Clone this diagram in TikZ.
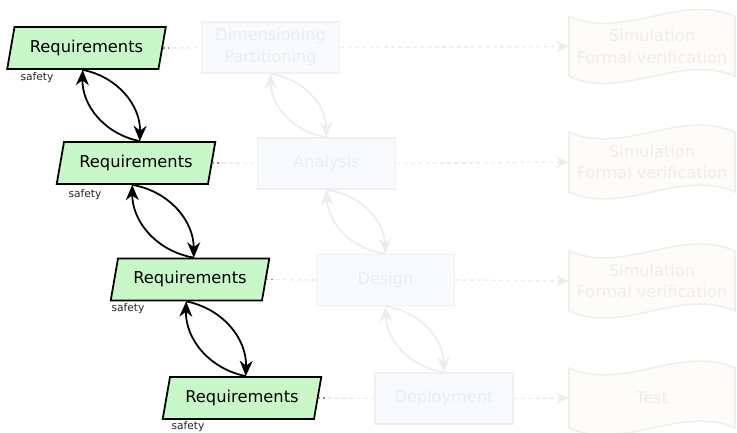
\documentclass[tikz,border=0pt]{standalone}
\usepackage{fontspec}
\setmainfont{DejaVu Sans}
\usetikzlibrary{shapes.geometric,arrows.meta,calc}
\definecolor{reqfill}{HTML}{C8F7C8}
\definecolor{boxfill}{HTML}{F9FAFD}
\definecolor{boxdraw}{HTML}{EEF0F2}
\definecolor{boxtext}{HTML}{EBEDF0}
\definecolor{docfill}{HTML}{FDFCF8}
\definecolor{docdraw}{HTML}{F1EFEA}
\definecolor{doctext}{HTML}{EFEDE8}
\definecolor{faint}{HTML}{EDEDED}
\definecolor{linkred}{HTML}{B07888}
\begin{document}
\begin{tikzpicture}[x=0.62pt,y=-0.62pt,
  req/.style={shape=trapezium, trapezium left angle=70, trapezium right angle=110,
    trapezium stretches=true, draw=black, line width=1.1pt, fill=reqfill,
    minimum width=98.6pt, minimum height=26pt, inner sep=0pt,
    font=\fontsize{10.1}{12}\selectfont},
  tag/.style={inner sep=0pt, font=\fontsize{6.6}{8}\selectfont, text=black!85},
  stage/.style={draw=boxdraw, line width=1.1pt, fill=boxfill, text=boxtext,
    minimum width=85.6pt, minimum height=31.6pt, align=center, inner sep=0pt,
    font=\fontsize{10}{13.6}\selectfont},
  docnode/.style={draw=none, text=doctext, minimum width=103pt, minimum height=37.2pt,
    align=center, inner sep=0pt, font=\fontsize{10}{13.2}\selectfont},
  docwave/.pic={
    \path[fill=docfill, draw=docdraw, line width=1pt]
      (-83,-30) .. controls (-28,-6) and (28,-54) .. (83,-30) -- (83,30)
      .. controls (28,6) and (-28,54) .. (-83,30) -- cycle;},
  blk/.style={draw=black, line width=1.1pt, -{Stealth[length=9.5pt,width=8pt,inset=3pt]}},
  faintarc/.style={draw=faint, line width=1.1pt, -{Stealth[length=9.5pt,width=8pt,inset=3pt]}},
  faintdash/.style={draw=faint, line width=1pt, dash pattern=on 2.5pt off 2pt},
  faintarrow/.style={faintdash, -{Stealth[length=8pt,width=7.5pt,inset=3pt]}},
  reddot/.style={draw=linkred, line width=1pt, dash pattern=on 1pt off 2pt}
]
\useasboundingbox (0,0) rectangle (737,433);

% verification documents
\foreach \y in {46.5,162,281,398} { \pic at (652,\y) {docwave}; }
\node[docnode] (d1) at (652,46.5) {Simulation\\Formal verification};
\node[docnode] (d2) at (652,162) {Simulation\\Formal verification};
\node[docnode] (d3) at (652,281) {Simulation\\Formal verification};
\node[docnode] (d4) at (652,398) {Test};

% development stages
\node[stage] (b1) at (270.5,47.5) {Dimensioning\\Partitioning};
\node[stage] (b2) at (326.5,163.5) {Analysis};
\node[stage] (b3) at (385.5,280) {Design};
\node[stage] (b4) at (444,398.5) {Deployment};

% requirement nodes
\node[req] (r1) at (86.5,48) {Requirements};
\node[req] (r2) at (136,163) {Requirements};
\node[req] (r3) at (190,279.5) {Requirements};
\node[req] (r4) at (242,398) {Requirements};

\node[tag] (s1) at (37,78) {safety};
\node[tag] (s2) at (85,195) {safety};
\node[tag] (s3) at (128,309) {safety};
\node[tag] (s4) at (188,427) {safety};

% midpoints of the top and bottom edges of the requirement nodes
\foreach \i in {1,2,3,4} {
  \coordinate (r\i n) at ($(r\i.top left corner)!0.5!(r\i.top right corner)$);
  \coordinate (r\i s) at ($(r\i.bottom left corner)!0.5!(r\i.bottom right corner)$);
  \coordinate (r\i e) at ($(r\i.east)+(9,0)$);
}

% links from requirements to stages
\foreach \i in {1,2,3,4} {
  \draw[faintdash] (r\i e) -- (b\i.west);
  \draw[reddot] (r\i.east) -- (r\i e);
  \draw[faintarrow] (b\i.east) -- (d\i.west);
}

% iteration loops between stages
\foreach \i/\j in {1/2,2/3,3/4} {
  \draw[faintarc] (b\i.south) to[bend left=40] (b\j.north);
  \draw[faintarc] (b\j.north) to[bend left=40] (b\i.south);
}

% iteration loops between requirements
\foreach \i/\j in {1/2,2/3,3/4} {
  \draw[blk] (r\i s) to[bend left=40] (r\j n);
  \draw[blk] (r\j n) to[bend left=40] (r\i s);
}
\end{tikzpicture}
\end{document}
